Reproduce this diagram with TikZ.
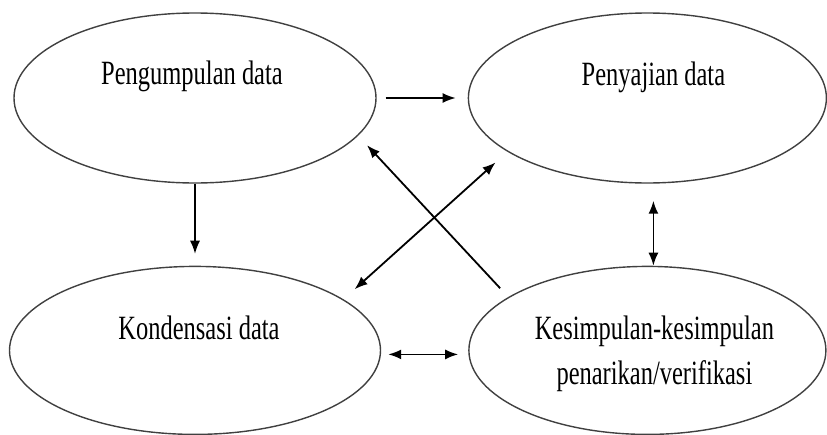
\documentclass[tikz,border=0pt]{standalone}
\usepackage{fontspec}
\setmainfont{Liberation Serif}
\usepackage{graphicx}
\usetikzlibrary{positioning,shapes.geometric,arrows.meta}

\newcommand{\squeeze}[1]{\scalebox{0.72}[1]{#1}}

\begin{document}
\begin{tikzpicture}[x=1pt,y=1pt,>={Latex[length=13pt,width=10pt]},semithick,
        blob/.style={ellipse,draw=black!75,line width=1.4pt,minimum height=170pt,inner sep=0pt},
        lab/.style={font=\fontsize{34}{45}\selectfont,align=center,inner sep=0pt},
        link/.style={line width=1.8pt}]
    \useasboundingbox (0,0) rectangle (827,-434);
    \node[blob,minimum width=362pt] (pd) at (195,-98) {};
    \node[blob,minimum width=358pt] (py) [right=91pt of pd] {};
    \node[blob,minimum width=371pt,minimum height=168pt] (kd) [below=82pt of pd] {};
    \node[blob,minimum width=357pt,minimum height=168pt] (kv) [below=82pt of py] {};
    % texts sit in the upper half of the ellipses
    \node[lab,anchor=base] (tpd) at ([yshift=14pt,xshift=-3pt]pd.center) {\squeeze{Pengumpulan data}};
    \node[lab,anchor=base] (tpy) at ([yshift=13pt,xshift=6pt]py.center) {\squeeze{Penyajian data}};
    \node[lab,anchor=base] (tkd) at ([yshift=11pt,xshift=4pt]kd.center) {\squeeze{Kondensasi data}};
    \node[lab] (tkv) at ([yshift=-3pt,xshift=7pt]kv.center) {\squeeze{Kesimpulan-kesimpulan}\\\squeeze{penarikan/verifikasi}};
    \draw[link,->,shorten <=9pt,shorten >=12pt] (pd.east) -- (py.west);
    \draw[->,line width=1.3pt,shorten >=12pt] (pd.south) -- (kd.north);
    \draw[link,<->,shorten <=17pt] ([xshift=6pt]py.south) -- ([xshift=6pt]kv.north);
    \draw[link,<->,shorten <=7pt,shorten >=10pt] ([yshift=-4pt]kd.east) -- ([yshift=-4pt]kv.west);
    \draw[link,->,shorten <=12pt,shorten >=13pt] (kv.159.5) -- (pd.-13.7);
    \draw[link,<->,shorten <=15pt,shorten >=16pt] (kd.19.2) -- (py.201.7);
\end{tikzpicture}
\end{document}
